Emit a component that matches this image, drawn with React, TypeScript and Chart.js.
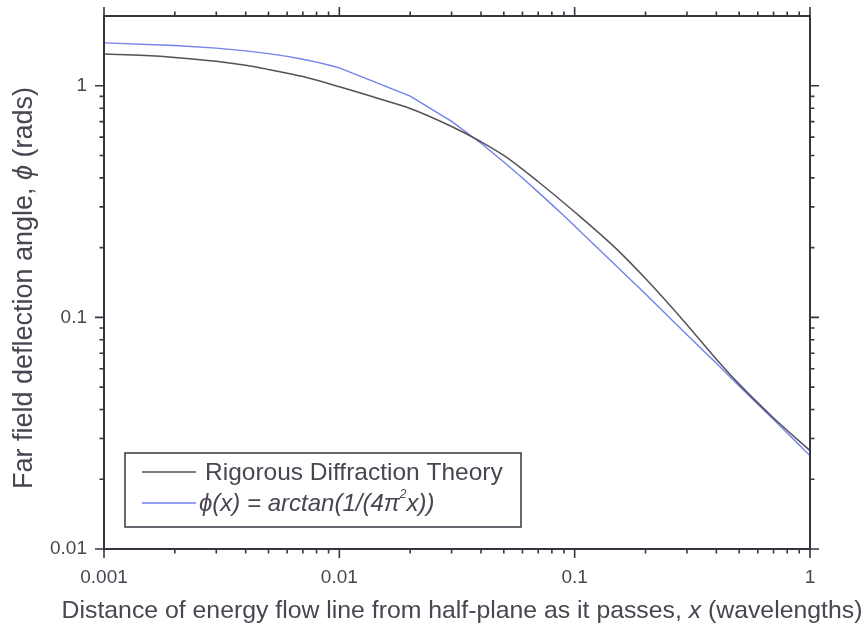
import React, { useEffect, useRef } from 'react';
import { Chart, registerables } from 'chart.js';

Chart.register(...registerables);

// ---- data ----
const formulaX = [
  0.001, 0.002, 0.003, 0.004, 0.005, 0.006, 0.007, 0.008, 0.009,
  0.01, 0.02, 0.03, 0.04, 0.05, 0.06, 0.07, 0.08, 0.09,
  0.1, 0.2, 0.3, 0.4, 0.5, 0.6, 0.7, 0.8, 0.9, 1,
];
const formulaY = [
  1.5313, 1.492, 1.4529, 1.4142, 1.3759, 1.3382, 1.3012, 1.2648, 1.2294,
  1.1951, 0.9025, 0.7012, 0.5647, 0.4689, 0.3994, 0.3473, 0.3067, 0.2744,
  0.2481, 0.126, 0.0842, 0.0633, 0.0506, 0.0422, 0.0362, 0.0317, 0.0281, 0.0253,
];
const rigorousX = [
  0.001, 0.0015, 0.002, 0.003, 0.004, 0.005, 0.007, 0.01, 0.015, 0.02, 0.03,
  0.04, 0.05, 0.07, 0.1, 0.15, 0.2, 0.3, 0.4, 0.5, 0.7, 1,
];
const rigorousY = [
  1.37, 1.35, 1.325, 1.275, 1.225, 1.175, 1.095, 0.99, 0.875, 0.798, 0.667,
  0.573, 0.5, 0.385, 0.285, 0.198, 0.147, 0.093, 0.066, 0.0515, 0.0368, 0.0266,
];
const xTickValues = [0.001, 0.01, 0.1, 1];
const xTickLabels = ['0.001', '0.01', '0.1', '1'];
const yTickValues = [0.01, 0.1, 1];
const yTickLabels = ['0.01', '0.1', '1'];
const seriesNames = ['Rigorous Diffraction Theory', 'ϕ(x) = arctan(1/(4π²x))'];

// ---- styles ----
const FONT = '"Liberation Sans", Arial, Helvetica, sans-serif';
const TEXT = '#4a4550';
const AXIS = '#3a3440';
const BLACK = '#56505a';
const BLUE = '#7282ea';

const labelFor = (v: number, vals: number[], labels: string[]) => {
  for (let i = 0; i < vals.length; i++) {
    if (Math.abs(Math.log10(v) - Math.log10(vals[i])) < 1e-6) return labels[i];
  }
  return null;
};

type Seg = { t: string; italic?: boolean; sup?: boolean };

const drawSegs = (ctx: CanvasRenderingContext2D, segs: Seg[], x: number, y: number, size: number, align: 'left' | 'center') => {
  const fontOf = (s: Seg) => `${s.italic ? 'italic ' : ''}${s.sup ? Math.round(size * 0.5) : size}px ${FONT}`;
  let total = 0;
  for (const s of segs) {
    ctx.font = fontOf(s);
    total += ctx.measureText(s.t).width;
  }
  let cx = align === 'center' ? x - total / 2 : x;
  ctx.textAlign = 'left';
  ctx.textBaseline = 'alphabetic';
  for (const s of segs) {
    ctx.font = fontOf(s);
    ctx.fillText(s.t, cx, s.sup ? y - size * 0.55 : y);
    cx += ctx.measureText(s.t).width;
  }
};

const framePlugin = {
  id: 'frameTicks',
  afterDatasetsDraw(chart: any) {
    const { ctx, chartArea: a, scales } = chart;
    const xs = scales.x;
    const ys = scales.y;
    ctx.save();
    ctx.strokeStyle = AXIS;
    ctx.lineWidth = 2;
    ctx.strokeRect(a.left, a.top, a.right - a.left, a.bottom - a.top);
    ctx.lineWidth = 1.6;
    const MAJ = 9;
    const MIN = 4.5;
    ctx.beginPath();
    for (let e = -3; e <= 0; e++) {
      for (let k = 1; k <= 9; k++) {
        const v = k * Math.pow(10, e);
        if (v < 0.001 * 0.999 || v > 1 * 1.001) continue;
        const p = xs.getPixelForValue(v);
        const L = k === 1 ? MAJ : MIN;
        ctx.moveTo(p, a.bottom);
        ctx.lineTo(p, a.bottom + L);
        ctx.moveTo(p, a.top);
        ctx.lineTo(p, a.top - L);
      }
    }
    for (let e = -2; e <= 0; e++) {
      for (let k = 1; k <= 9; k++) {
        const v = k * Math.pow(10, e);
        if (v < 0.01 * 0.999 || v > 1.999) continue;
        const p = ys.getPixelForValue(v);
        const L = k === 1 ? MAJ : MIN;
        ctx.moveTo(a.left, p);
        ctx.lineTo(a.left - L, p);
        ctx.moveTo(a.right, p);
        ctx.lineTo(a.right + L, p);
      }
    }
    ctx.stroke();
    ctx.restore();
  },
  afterDraw(chart: any) {
    const { ctx } = chart;
    ctx.save();
    ctx.fillStyle = TEXT;
    // x title
    drawSegs(
      ctx,
      [
        { t: 'Distance of energy flow line from half-plane as it passes, ' },
        { t: 'x', italic: true },
        { t: ' (wavelengths)' },
      ],
      462,
      618,
      24.8,
      'center'
    );
    // y title
    ctx.save();
    ctx.translate(32, 288);
    ctx.rotate(-Math.PI / 2);
    drawSegs(
      ctx,
      [{ t: 'Far field deflection angle, ' }, { t: 'ϕ', italic: true }, { t: ' (rads)' }],
      0,
      0,
      27,
      'center'
    );
    ctx.restore();
    // legend
    const ds = chart.data.datasets;
    ctx.strokeStyle = AXIS;
    ctx.lineWidth = 1.5;
    ctx.strokeRect(125, 453, 396, 74);
    const rows = [472, 503];
    ds.forEach((d: any, i: number) => {
      ctx.strokeStyle = d.borderColor;
      ctx.lineWidth = d.borderWidth;
      ctx.beginPath();
      ctx.moveTo(142, rows[i]);
      ctx.lineTo(196, rows[i]);
      ctx.stroke();
    });
    ctx.fillStyle = TEXT;
    drawSegs(ctx, [{ t: seriesNames[0] }], 205, 480, 24.5, 'left');
    drawSegs(
      ctx,
      [
        { t: 'ϕ(x) = arctan(1/(4π', italic: true },
        { t: '2', italic: true, sup: true },
        { t: 'x))', italic: true },
      ],
      199,
      511,
      24,
      'left'
    );
    ctx.restore();
  },
};

export default function App() {
  const ref = useRef<HTMLCanvasElement | null>(null);
  useEffect(() => {
    if (!ref.current) return;
    const chart = new Chart(ref.current, {
      type: 'line',
      data: {
        datasets: [
          {
            label: seriesNames[0],
            data: rigorousX.map((x, i) => ({ x, y: rigorousY[i] })),
            borderColor: BLACK,
            borderWidth: 1.5,
            pointRadius: 0,
            cubicInterpolationMode: 'monotone',
            fill: false,
          },
          {
            label: seriesNames[1],
            data: formulaX.map((x, i) => ({ x, y: formulaY[i] })),
            borderColor: BLUE,
            borderWidth: 1.4,
            pointRadius: 0,
            tension: 0,
            fill: false,
          },
        ],
      },
      options: {
        animation: false,
        responsive: false,
        devicePixelRatio: 1,
        layout: { padding: { left: 0, right: 57, top: 16, bottom: 0 } },
        plugins: { legend: { display: false }, tooltip: { enabled: false } },
        scales: {
          x: {
            type: 'logarithmic',
            min: 0.001,
            max: 1,
            grid: { display: false, drawTicks: false },
            border: { display: false },
            ticks: {
              autoSkip: false,
              maxRotation: 0,
              minRotation: 0,
              padding: 17,
              color: TEXT,
              font: { family: FONT, size: 19 },
              callback: (v: any) => labelFor(Number(v), xTickValues, xTickLabels),
            },
            afterFit: (s: any) => {
              s.height = 83;
              s.paddingLeft = 0;
              s.paddingRight = 0;
            },
          },
          y: {
            type: 'logarithmic',
            min: 0.01,
            max: 2,
            grid: { display: false, drawTicks: false },
            border: { display: false },
            ticks: {
              autoSkip: false,
              padding: 17,
              color: TEXT,
              font: { family: FONT, size: 19 },
              callback: (v: any) => labelFor(Number(v), yTickValues, yTickLabels),
            },
            afterFit: (s: any) => {
              s.width = 104;
              s.paddingTop = 0;
              s.paddingBottom = 0;
            },
          },
        },
      } as any,
      plugins: [framePlugin],
    });
    return () => chart.destroy();
  }, []);
  return (
    <div style={{ position: 'absolute', left: 0, top: 0, width: 867, height: 632, background: '#fff' }}>
      <canvas ref={ref} width={867} height={632} />
    </div>
  );
}
